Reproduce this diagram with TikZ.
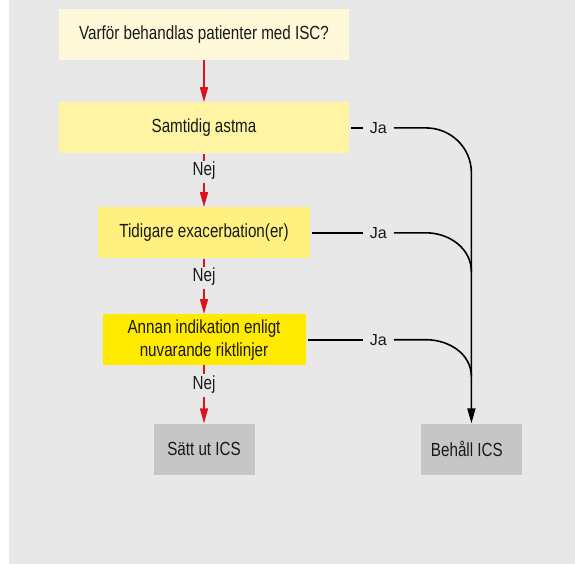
\documentclass[tikz,border=0pt]{standalone}
\usepackage{fontspec}
\setmainfont{Liberation Sans}[FakeStretch=0.8]
\newfontfamily\jafont{Liberation Sans}
\usepackage{tikz}
\usetikzlibrary{arrows.meta,positioning,calc}

\definecolor{bggray}{RGB}{232,232,232}
\definecolor{boxgray}{RGB}{198,198,198}
\definecolor{ylw1}{RGB}{255,249,218}
\definecolor{ylw2}{RGB}{255,244,164}
\definecolor{ylw3}{RGB}{255,240,128}
\definecolor{ylw4}{RGB}{255,234,0}
\definecolor{nored}{RGB}{218,20,30}
\definecolor{txt}{RGB}{25,25,25}

\begin{document}
\begin{tikzpicture}[
        node distance=42pt,
        box/.style={
          rectangle,
          inner sep=0pt,
          align=center,
          minimum height=51pt,
          text=txt,
          font=\fontsize{19}{23}\selectfont
        },
        nej/.style={
          inner xsep=0pt,
          inner ysep=3pt,
          text height=12pt,
          text depth=4pt,
          text=txt,
          font=\fontsize{19}{23}\selectfont
        },
        ja/.style={
          inner xsep=7pt,
          inner ysep=0pt,
          text=txt,
          font=\jafont\fontsize{16}{19}\selectfont
        },
        noline/.style={draw=nored, line width=1.6pt},
        yesline/.style={draw=black, line width=1.6pt},
        tip/.style={-{Triangle[length=15pt,width=8pt]}}
      ]

        \fill[bggray] (9pt,0pt) rectangle (575pt,-564pt);
        \useasboundingbox (0pt,0pt) rectangle (575pt,-564pt);

        \node[box, fill=ylw1, minimum width=290pt] (why) at (204pt,-34.5pt) {Varför behandlas patienter med ISC?};
        \node[box, fill=ylw2, minimum width=290pt, below=42pt of why] (asthma) {Samtidig astma};
        \node[box, fill=ylw3, minimum width=212pt, below=53.5pt of asthma] (exac) {Tidigare exacerbation(er)};
        \node[box, fill=ylw4, minimum width=203pt, below=55.5pt of exac] (other) {Annan indikation enligt\\nuvarande riktlinjer};
        \node[box, fill=boxgray, minimum width=101pt, below=58pt of other] (stop) {Sätt ut ICS};
        \node[box, fill=boxgray, minimum width=101pt, right=166pt of stop] (keep) {Behåll ICS\hspace*{9pt}};

        \node[nej, below=7pt of asthma] (nej1) {Nej};
        \node[nej, below=8pt of exac] (nej2) {Nej};
        \node[nej, below=9pt of other] (nej3) {Nej};

        \node[ja] (ja1) at ($(asthma.east)+(29pt,0)$) {Ja};
        \node[ja] (ja2) at (ja1 |- exac) {Ja};
        \node[ja] (ja3) at (ja1 |- other) {Ja};

        \coordinate (m1) at ($(keep.north |- ja1)+(0,-45pt)$);
        \coordinate (m2) at ($(keep.north |- ja2)+(0,-39pt)$);
        \coordinate (m3) at ($(keep.north |- ja3)+(0,-37pt)$);

        \draw[noline, tip] (why) -- (asthma);
        \draw[noline] (asthma) -- (nej1);
        \draw[noline, tip] (nej1) -- (exac);
        \draw[noline] (exac) -- (nej2);
        \draw[noline, tip] (nej2) -- (other);
        \draw[noline] (other) -- (nej3);
        \draw[noline, tip] (nej3) -- (stop);

        \draw[yesline, shorten <=2pt] (asthma) -- (ja1);
        \draw[yesline, shorten <=2pt] (exac) -- (ja2);
        \draw[yesline, shorten <=2pt] (other) -- (ja3);
        \draw[yesline, tip] (ja1.east) -- ++(32pt,0) to[out=0,in=90] (m1) -- (keep.north);
        \draw[yesline] (ja2.east) -- ++(32pt,0) to[out=0,in=90] (m2);
        \draw[yesline] (ja3.east) -- ++(32pt,0) to[out=0,in=90] (m3);

      \end{tikzpicture}
\end{document}
